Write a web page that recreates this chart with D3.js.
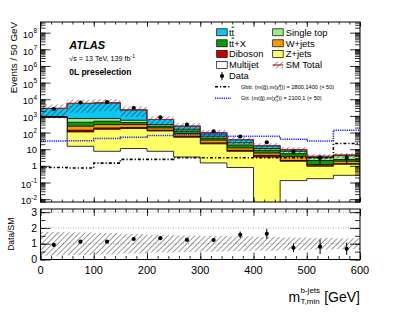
<!DOCTYPE html>
<html>
<head>
<meta charset="utf-8">
<script src="https://cdn.jsdelivr.net/npm/d3@7"></script>
<style>
    body { margin: 0; background: #fff; }
    svg { display: block; font-family: "Liberation Sans", Arial, sans-serif; }
</style>
</head>
<body>
<svg id="chart" width="407" height="315"></svg>
<script>
(function() {
    'use strict';

    // bins of m_T,min^b-jets, 50 GeV wide
    var binEdges  = [0, 50, 100, 150, 200, 250, 300, 350, 400, 450, 500, 550, 600];

    // background composition (events / bin)
    var multijet  = [800, 15, 7.5, 11, 7.5, 3.4, 1.5, 0.8, 0, 0.13, 0.17, 0.27];
    var zJets     = [40, 94, 150, 163, 117, 49, 19.5, 6.7, 3.4, 1.77, 0.78, 0.98];
    var diboson   = [3, 29, 32, 26, 13, 8, 3, 1.1, 0.9, 0.2, 0.05, 0.1];
    var wJets     = [15, 102, 110, 100, 52, 27, 11, 3.4, 1.6, 1.6, 0.2, 0.55];
    var ttX       = [15, 175, 180, 100, 50, 38, 12, 6, 2.7, 1.7, 0.9, 0.5];
    var singleTop = [30, 285, 220, 150, 60, 33, 13, 6, 2.4, 2.1, 1.0, 1.7];
    var ttbar     = [1900, 4900, 5300, 1750, 310, 82, 37, 13, 5, 2, 0.6, 0.3];

    // relative uncertainty of the SM total
    var bkgRelUnc = [0.75, 0.72, 0.68, 0.62, 0.56, 0.52, 0.5, 0.47, 0.44, 0.4, 0.37, 0.34];

    var dataObs   = [2580, 6330, 6780, 2990, 824, 298, 120, 58, 26, 7, 3, 3];
    var dataErr   = [51, 80, 82, 55, 29, 17, 11, 7.6, 5.1, 2.6, 1.7, 1.7];

    // signals (x 50)
    var gbbSignal = [0.8, 0.74, 1.47, 2.46, 2.46, 3.1, 3.1, 3.1, 3.1, 3.1, 3.1, 22];
    var gttSignal = [31, 32, 44, 52, 66, 76, 76, 60, 60, 40, 31, 138];

    var xMajorTicks = [0, 100, 200, 300, 400, 500, 600];
    var ratioTicks  = [0, 1, 2, 3];
    var logDecades  = [-2, -1, 0, 1, 2, 3, 4, 5, 6, 7, 8];

    // layout
    var left = 40.5, right = 360;
    var mainTop = 22, mainBot = 202;
    var ratTop = 209, ratBot = 259.5;

    var x = d3.scaleLinear().domain([0, 600]).range([left, right]);
    var y = d3.scaleLog().domain([Math.pow(10, -2.17), Math.pow(10, 8.64)]).range([mainBot, mainTop]);
    var yr = d3.scaleLinear().domain([0, 3.2]).range([ratBot, ratTop]);
    var yFloor = 1e-4;

    var svg = d3.select('#chart');
    var defs = svg.append('defs');

    defs.append('clipPath').attr('id', 'clipMain').append('rect')
        .attr('x', left).attr('y', mainTop)
        .attr('width', right - left).attr('height', mainBot - mainTop);
    defs.append('clipPath').attr('id', 'clipRatio').append('rect')
        .attr('x', left).attr('y', ratTop)
        .attr('width', right - left).attr('height', ratBot - ratTop);

    defs.append('pattern')
        .attr('id', 'hatch')
        .attr('patternUnits', 'userSpaceOnUse')
        .attr('width', 3.8).attr('height', 3.8)
        .attr('patternTransform', 'rotate(45)')
        .append('line')
        .attr('x1', 0).attr('y1', 0).attr('x2', 0).attr('y2', 3.8)
        .attr('stroke', '#000').attr('stroke-width', 0.8);

    var layers = [
        {name: 'Multijet',   values: multijet,  color: '#ffffff'},
        {name: 'Z+jets',     values: zJets,     color: '#ffff66'},
        {name: 'Diboson',    values: diboson,   color: '#cc0000'},
        {name: 'W+jets',     values: wJets,     color: '#ff9900'},
        {name: 'tt+X',       values: ttX,       color: '#0b9a0b'},
        {name: 'Single top', values: singleTop, color: '#99ee88'},
        {name: 'ttbar',      values: ttbar,     color: '#10c4f4'}
    ];

    // cumulative stack
    var running = binEdges.slice(1).map(function() { return 0; });
    layers.forEach(function(l) {
        l.cum = l.values.map(function(v, i) { running[i] += v; return running[i]; });
    });
    var total = running.slice();

    function stepPoints(vals) {
        var pts = [];
        vals.forEach(function(v, i) {
            pts.push([binEdges[i], v]);
            pts.push([binEdges[i + 1], v]);
        });
        return pts;
    }

    var area = d3.area()
        .x(function(d) { return x(d[0]); })
        .y0(mainBot + 5)
        .y1(function(d) { return y(Math.max(d[1], yFloor)); });
    var line = d3.line()
        .x(function(d) { return x(d[0]); })
        .y(function(d) { return y(Math.max(d[1], yFloor)); });

    var main = svg.append('g').attr('clip-path', 'url(#clipMain)');

    // stack, drawn from the top layer down
    layers.slice().reverse().forEach(function(l) {
        main.append('path')
            .attr('d', area(stepPoints(l.cum)))
            .attr('fill', l.color)
            .attr('stroke', '#000')
            .attr('stroke-width', 0.8);
    });

    // uncertainty band
    main.selectAll('rect.unc')
        .data(total)
        .enter()
        .append('rect')
        .attr('class', 'unc')
        .attr('x', function(d, i) { return x(binEdges[i]); })
        .attr('width', function(d, i) { return x(binEdges[i + 1]) - x(binEdges[i]); })
        .attr('y', function(d, i) { return y(d * (1 + bkgRelUnc[i])); })
        .attr('height', function(d, i) { return y(d * (1 - bkgRelUnc[i])) - y(d * (1 + bkgRelUnc[i])); })
        .attr('fill', 'url(#hatch)');

    // SM total line
    main.append('path')
        .attr('d', line(stepPoints(total)))
        .attr('fill', 'none')
        .attr('stroke', '#a0222a')
        .attr('stroke-width', 1.2);

    // signals
    main.append('path')
        .attr('d', line(stepPoints(gbbSignal)))
        .attr('fill', 'none')
        .attr('stroke', '#000')
        .attr('stroke-width', 1.6)
        .attr('stroke-dasharray', '3,2,1.2,2');
    main.append('path')
        .attr('d', line(stepPoints(gttSignal)))
        .attr('fill', 'none')
        .attr('stroke', '#1a1aff')
        .attr('stroke-width', 1.6)
        .attr('stroke-dasharray', '1.2,1');

    // data
    var mid = function(i) { return x((binEdges[i] + binEdges[i + 1]) / 2); };
    var dataG = main.append('g');
    dataObs.forEach(function(v, i) {
        dataG.append('line')
            .attr('x1', mid(i)).attr('x2', mid(i))
            .attr('y1', y(v + dataErr[i])).attr('y2', y(Math.max(v - dataErr[i], yFloor)))
            .attr('stroke', '#000').attr('stroke-width', 1);
        dataG.append('circle')
            .attr('cx', mid(i)).attr('cy', y(v)).attr('r', 2.1).attr('fill', '#000');
    });

    // ratio panel
    var ratio = svg.append('g').attr('clip-path', 'url(#clipRatio)');
    [1, 2, 3].forEach(function(r) {
        ratio.append('line')
            .attr('x1', left).attr('x2', right)
            .attr('y1', yr(r)).attr('y2', yr(r))
            .attr('stroke', '#999').attr('stroke-width', 0.8)
            .attr('stroke-dasharray', '1,1.5');
    });
    ratio.selectAll('rect.unc')
        .data(bkgRelUnc)
        .enter()
        .append('rect')
        .attr('x', function(d, i) { return x(binEdges[i]); })
        .attr('width', function(d, i) { return x(binEdges[i + 1]) - x(binEdges[i]); })
        .attr('y', function(d) { return yr(1 + d); })
        .attr('height', function(d) { return yr(1 - d) - yr(1 + d); })
        .attr('fill', 'url(#hatch)');
    dataObs.forEach(function(v, i) {
        var r = v / total[i], e = dataErr[i] / total[i];
        ratio.append('line')
            .attr('x1', mid(i)).attr('x2', mid(i))
            .attr('y1', yr(r + e)).attr('y2', yr(r - e))
            .attr('stroke', '#000').attr('stroke-width', 1);
        ratio.append('circle')
            .attr('cx', mid(i)).attr('cy', yr(r)).attr('r', 2.1).attr('fill', '#000');
    });

    // frames and ticks
    function frame(t, b) {
        svg.append('rect')
            .attr('x', left).attr('y', t)
            .attr('width', right - left).attr('height', b - t)
            .attr('fill', 'none').attr('stroke', '#000').attr('stroke-width', 1);
    }
    frame(mainTop, mainBot);
    frame(ratTop, ratBot);

    function addAxis(axis, tx, ty) {
        var g = svg.append('g').attr('transform', 'translate(' + tx + ',' + ty + ')').call(axis);
        g.select('.domain').remove();
        g.selectAll('text').remove();
        g.selectAll('line').attr('stroke', '#000').attr('stroke-width', 0.8);
        return g;
    }

    var xMinorTicks = d3.range(0, 601, 20);
    [[mainTop, mainBot, 5, 2.5], [ratTop, ratBot, 7, 3.5]].forEach(function(p) {
        addAxis(d3.axisBottom(x).tickValues(xMinorTicks).tickSize(-p[3]), 0, p[1]);
        addAxis(d3.axisBottom(x).tickValues(xMajorTicks).tickSize(-p[2]), 0, p[1]);
        addAxis(d3.axisTop(x).tickValues(xMinorTicks).tickSize(-p[3]), 0, p[0]);
        addAxis(d3.axisTop(x).tickValues(xMajorTicks).tickSize(-p[2]), 0, p[0]);
    });

    var logMinor = [];
    d3.range(-3, 9).forEach(function(e) {
        d3.range(1, 10).forEach(function(m) {
            var v = m * Math.pow(10, e);
            if (v >= y.domain()[0] && v <= y.domain()[1]) { logMinor.push(v); }
        });
    });
    var logMajor = logDecades.map(function(e) { return Math.pow(10, e); });
    addAxis(d3.axisLeft(y).tickValues(logMinor).tickSize(-5), left, 0);
    addAxis(d3.axisLeft(y).tickValues(logMajor).tickSize(-10), left, 0);
    addAxis(d3.axisRight(y).tickValues(logMinor).tickSize(-5), right, 0);
    addAxis(d3.axisRight(y).tickValues(logMajor).tickSize(-10), right, 0);

    var ratioMinor = d3.range(0, 3.21, 0.5);
    addAxis(d3.axisLeft(yr).tickValues(ratioMinor).tickSize(-5), left, 0);
    addAxis(d3.axisLeft(yr).tickValues(ratioTicks).tickSize(-10), left, 0);
    addAxis(d3.axisRight(yr).tickValues(ratioMinor).tickSize(-5), right, 0);
    addAxis(d3.axisRight(yr).tickValues(ratioTicks).tickSize(-10), right, 0);

    // tick labels
    logDecades.forEach(function(e) {
        var ty = y(Math.pow(10, e));
        var t = svg.append('text').attr('text-anchor', 'end').attr('font-size', 9.5);
        if (e === 0 || e === 1) {
            t.attr('x', 37).attr('y', ty + 3.4).text(e === 0 ? '1' : '10');
        } else {
            t.attr('x', 37).attr('y', ty + 5.2);
            t.append('tspan').text('10');
            t.append('tspan').attr('font-size', 6.5).attr('dy', -4.5).text(e);
        }
    });
    ratioTicks.forEach(function(r) {
        svg.append('text')
            .attr('x', 37).attr('y', yr(r) + 3.6)
            .attr('text-anchor', 'end').attr('font-size', 10.5)
            .text(r);
    });
    xMajorTicks.forEach(function(v) {
        svg.append('text')
            .attr('x', x(v)).attr('y', 274)
            .attr('text-anchor', 'middle').attr('font-size', 11)
            .text(v);
    });

    // axis titles
    svg.append('text')
        .attr('transform', 'translate(16.5,' + mainTop + ') rotate(-90)')
        .attr('text-anchor', 'end').attr('font-size', 9.8)
        .text('Events / 50 GeV');
    svg.append('text')
        .attr('transform', 'translate(14,' + ((ratTop + ratBot) / 2) + ') rotate(-90)')
        .attr('text-anchor', 'middle').attr('font-size', 8.5)
        .text('Data/SM');
    svg.append('text').attr('x', 288.5).attr('y', 301.5).attr('font-size', 14).text('m');
    svg.append('text').attr('x', 300.5).attr('y', 292.5).attr('font-size', 8).text('b-jets');
    svg.append('text').attr('x', 300.5).attr('y', 304).attr('font-size', 8).text('T,min');
    svg.append('text').attr('x', right).attr('y', 301.5).attr('text-anchor', 'end')
        .attr('font-size', 14).text('[GeV]');

    // ATLAS label
    svg.append('text').attr('x', 69.3).attr('y', 49)
        .attr('font-size', 11).attr('font-weight', 'bold').attr('font-style', 'italic')
        .text('ATLAS');
    var lumi = svg.append('text').attr('x', 69.3).attr('y', 61).attr('font-size', 7.2);
    lumi.append('tspan').text('\u221As = 13 TeV, 139 fb');
    lumi.append('tspan').attr('font-size', 5).attr('dy', -3).text('-1');
    svg.append('text').attr('x', 69.3).attr('y', 75)
        .attr('font-size', 8.5).attr('font-weight', 'bold')
        .text('0L preselection');

    // legend
    var legendCol1 = [
        {layer: 'ttbar', label: 'tt'},
        {layer: 'tt+X', label: 'tt+X'},
        {layer: 'Diboson', label: 'Diboson'},
        {layer: 'Multijet', label: 'Multijet'}
    ];
    var legendCol2 = [
        {layer: 'Single top', label: 'Single top'},
        {layer: 'W+jets', label: 'W+jets'},
        {layer: 'Z+jets', label: 'Z+jets'}
    ];
    var rowY = [32.3, 43.3, 54, 65, 76];
    function layerColor(name) {
        return layers.filter(function(l) { return l.name === name; })[0].color;
    }
    function legendText(tx, ty, entry) {
        var t = svg.append('text').attr('x', tx).attr('y', ty + 3.4).attr('font-size', 9.4);
        if (entry.layer === 'ttbar' || entry.layer === 'tt+X') {
            t.append('tspan').text('t');
            t.append('tspan').attr('text-decoration', 'overline').text('t');
            if (entry.layer === 'tt+X') { t.append('tspan').text('+X'); }
        } else {
            t.text(entry.label);
        }
    }
    [[legendCol1, 216.7, 229], [legendCol2, 272.7, 285.7]].forEach(function(col) {
        col[0].forEach(function(entry, i) {
            svg.append('rect')
                .attr('x', col[1]).attr('y', rowY[i] - 3.5)
                .attr('width', 10.5).attr('height', 7)
                .attr('fill', layerColor(entry.layer))
                .attr('stroke', '#000').attr('stroke-width', 0.7);
            legendText(col[2], rowY[i], entry);
        });
    });
    // SM total
    svg.append('rect')
        .attr('x', 272.7).attr('y', rowY[3] - 3.5).attr('width', 10.5).attr('height', 7)
        .attr('fill', 'url(#hatch)');
    svg.append('line')
        .attr('x1', 272.7).attr('x2', 283.2).attr('y1', rowY[3]).attr('y2', rowY[3])
        .attr('stroke', '#a0222a').attr('stroke-width', 1.2);
    legendText(285.7, rowY[3], {label: 'SM Total'});
    // data
    svg.append('line')
        .attr('x1', 222).attr('x2', 222).attr('y1', rowY[4] - 4).attr('y2', rowY[4] + 4)
        .attr('stroke', '#000').attr('stroke-width', 1);
    svg.append('circle').attr('cx', 222).attr('cy', rowY[4]).attr('r', 2.1).attr('fill', '#000');
    legendText(229, rowY[4], {label: 'Data'});

    // signal legend
    var sigRows = [
        {y: 86.7, color: '#000', dash: '3,2,1.2,2', label: 'Gbb', masses: '2800,1400'},
        {y: 98.3, color: '#1a1aff', dash: '1.2,1', label: 'Gtt', masses: '2100,1'}
    ];
    sigRows.forEach(function(s) {
        svg.append('line')
            .attr('x1', 215).attr('x2', 231).attr('y1', s.y).attr('y2', s.y)
            .attr('stroke', s.color).attr('stroke-width', 1.6)
            .attr('stroke-dasharray', s.dash);
        var t = svg.append('text').attr('x', 241).attr('y', s.y + 2).attr('font-size', 5.6);
        t.append('tspan').text(s.label + ': (m(g\u0303),m(\u03C7\u0303');
        t.append('tspan').attr('font-size', 3.8).attr('dy', -2.2).text('0');
        t.append('tspan').attr('font-size', 3.8).attr('dx', -2).attr('dy', 3.4).text('1');
        t.append('tspan').attr('dy', -1.2).text(')) = ' + s.masses + ' (\u00D7 50)');
    });
})();
</script>
</body>
</html>
